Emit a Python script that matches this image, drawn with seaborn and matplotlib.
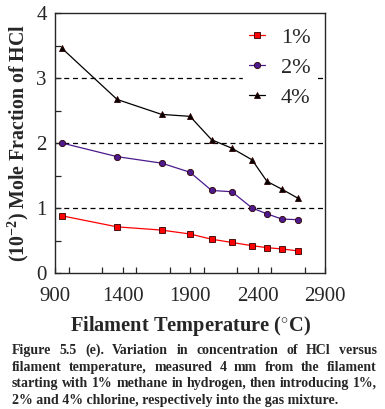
import pandas as pd
import numpy as np
import matplotlib
matplotlib.use('Agg')
import matplotlib.pyplot as plt
import seaborn as sns
from matplotlib.ticker import FixedLocator, MultipleLocator

# data
temp = [950, 1360, 1690, 1900, 2060, 2210, 2360, 2470, 2580, 2700]
hcl_1 = [0.88, 0.71, 0.66, 0.60, 0.52, 0.47, 0.42, 0.39, 0.37, 0.34]
hcl_2 = [2.00, 1.79, 1.69, 1.55, 1.27, 1.25, 1.00, 0.91, 0.83, 0.82]
hcl_4 = [3.46, 2.67, 2.44, 2.41, 2.05, 1.92, 1.74, 1.41, 1.29, 1.15]
labels = ['1%', '2%', '4%']
xticks = [900, 1400, 1900, 2400, 2900]

df = pd.DataFrame({
    'T': temp * 3,
    'HCl': hcl_1 + hcl_2 + hcl_4,
    'Cl': np.repeat(labels, len(temp)),
})

sns.set_style('ticks')
plt.rcParams['font.family'] = ['Liberation Serif', 'DejaVu Serif']
plt.rcParams['mathtext.fontset'] = 'custom'
plt.rcParams['mathtext.rm'] = 'Liberation Serif:bold'
plt.rcParams['mathtext.it'] = 'Liberation Serif:bold'

W, H = 385, 409
fig = plt.figure(figsize=(W / 100, H / 100), dpi=100)
ax = fig.add_axes([55 / W, 1 - 273 / H, 270 / W, 260 / H])

for y in [1, 2, 3]:
    ax.axhline(y, color='black', lw=0.9, ls=(0, (4, 3)), zorder=0)

palette = {'1%': '#ff0000', '2%': '#4b1a8c', '4%': '#000000'}
markers = {'1%': 's', '2%': 'o', '4%': '^'}
sns.lineplot(data=df, x='T', y='HCl', hue='Cl', style='Cl', palette=palette,
             markers=markers, dashes=False, lw=0.9, markersize=4.5,
             markeredgecolor='#300000', markeredgewidth=0.6, ax=ax)

ax.set_xlim(900, 2900)
ax.set_ylim(0, 4)
ax.xaxis.set_major_locator(FixedLocator(xticks))
ax.xaxis.set_minor_locator(MultipleLocator(250))
ax.yaxis.set_major_locator(MultipleLocator(1))
ax.yaxis.set_minor_locator(MultipleLocator(0.5))
ax.tick_params(which='both', direction='in', length=4, width=0.9, labelsize=15)
ax.tick_params(axis='x', pad=10)
ax.tick_params(axis='y', pad=6)
for s in ax.spines.values():
    s.set_linewidth(1.0)
    s.set_visible(True)

ax.set_xlabel(r'Filament Temperature ($^{\circ}$C)', fontsize=14.7, fontweight='bold', labelpad=6)
ax.set_ylabel(r'(10$^{-2}$) Mole Fraction of HCl', fontsize=14.3, fontweight='bold', labelpad=4)

leg = ax.legend(title=None, loc='upper right', bbox_to_anchor=(1.0, 1.0), frameon=True,
                fontsize=16, handlelength=0.75, handletextpad=0.7, labelspacing=0.42,
                borderpad=0.25, borderaxespad=0.4)
leg.get_frame().set_edgecolor('white')
leg.get_frame().set_facecolor('white')
leg.get_frame().set_alpha(1)

# justified caption below the plot
caption = ["Figure 5.5 (e). Variation in concentration of HCl versus",
           "filament temperature, measured 4 mm from the filament",
           "starting with 1% methane in hydrogen, then introducing 1%,",
           "2% and 4% chlorine, respectively into the gas mixture."]
baselines = [354, 371, 387, 404]
x0, x1 = 12, 377
fs = 10
renderer = fig.canvas.get_renderer()
for i, (line, yb) in enumerate(zip(caption, baselines)):
    yf = 1 - yb / H
    if i == len(caption) - 1:
        fig.text(x0 / W, yf, line, fontsize=fs, fontweight='bold', va='baseline')
        continue
    words = line.split(' ')
    texts = [fig.text(0, yf, w, fontsize=fs, fontweight='bold', va='baseline') for w in words]
    widths = [t.get_window_extent(renderer).width for t in texts]
    gap = (x1 - x0 - sum(widths)) / (len(words) - 1)
    x = x0
    for t, w in zip(texts, widths):
        t.set_x(x / W)
        x += w + gap

fig.savefig('out.png', dpi=100)
